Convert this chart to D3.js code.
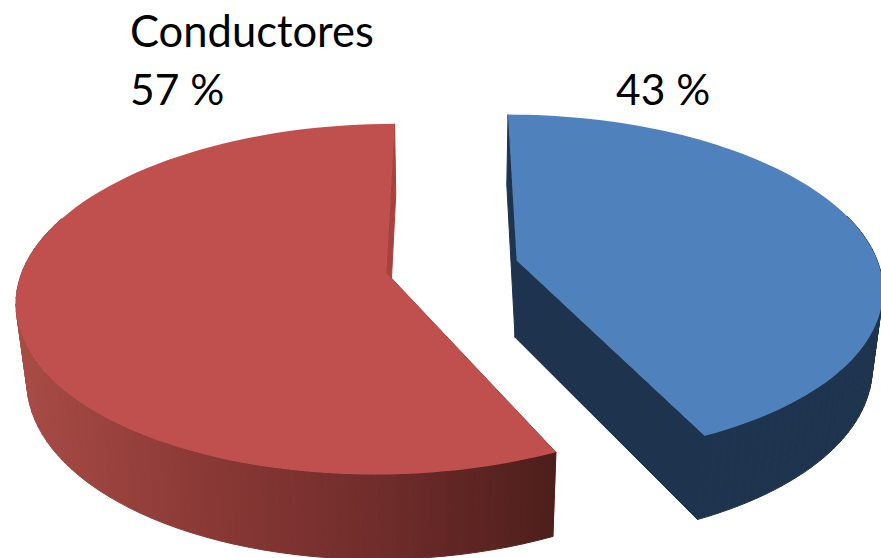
<!DOCTYPE html>
<html>
<head>
<meta charset="utf-8">
<script src="https://cdn.jsdelivr.net/npm/d3@7"></script>
<style>
  html, body { margin: 0; padding: 0; background: #fff; }
  svg { display: block; }
</style>
</head>
<body>
<div id="chart"></div>
<script>
const categories = ['Otros', 'Conductores'];
const values = [43, 57];
const labelLines = [['43 %'], ['Conductores', '57 %']];

const width = 881;
const height = 558;

// perspective settings for the 3D pie
const view = { x0: 450, y0: 265, sx: 362, sy: 169, depth: 79, tilt: 0.15, shrink: 0.025 };
// how far each slice is pulled out of the pie, in radius units
const explode = [{ x: 0.185, y: -0.027 }, { x: -0.175, y: 0.045 }];
const labelPos = [{ x: 616, y: 105 }, { x: 130, y: 47 }];

const topColor = d3.scaleOrdinal().domain(categories).range(['#4f81bd', '#c0504d']);
const faceColor = d3.scaleOrdinal().domain(categories).range(['#1e344e', '#a8423f']);

const svg = d3.select('#chart')
    .append('svg')
    .attr('width', width)
    .attr('height', height);

// the wall of the red slice gets darker from left to right, blue stays flat
const defs = svg.append('defs');
const wallStops = [
    ['wall-0', [[20, '#1e344e'], [881, '#1e344e']]],
    ['wall-1', [[20, '#a84b45'], [200, '#8b3936'], [400, '#6c2b29'], [554, '#4d1e1b']]]
];
wallStops.forEach(([id, stops]) => {
    const grad = defs.append('linearGradient')
        .attr('id', id)
        .attr('gradientUnits', 'userSpaceOnUse')
        .attr('x1', stops[0][0]).attr('x2', stops[stops.length - 1][0])
        .attr('y1', 0).attr('y2', 0);
    stops.forEach(s => {
        grad.append('stop')
            .attr('offset', (s[0] - stops[0][0]) / (stops[stops.length - 1][0] - stops[0][0]))
            .attr('stop-color', s[1]);
    });
});

function project(X, Y, Z) {
    const w = 1 - view.tilt * Y + view.shrink * Z;
    return [view.x0 + view.sx * X / w, view.y0 + (view.sy * Y + view.depth * Z) / w];
}

function rim(off, angle, z) {
    return project(off.x + Math.sin(angle), off.y - Math.cos(angle), z);
}

const line = d3.line();
const pie = d3.pie().sort(null).value(d => d)(values);

pie.forEach((slice, i) => {
    const name = categories[i];
    const off = explode[i];
    const g = svg.append('g').attr('class', 'slice');
    const steps = d3.range(0, 91).map(k => slice.startAngle + (slice.endAngle - slice.startAngle) * k / 90);
    const apexTop = project(off.x, off.y, 0);
    const apexBase = project(off.x, off.y, 1);

    // cut faces first, the top covers whatever should be hidden
    [slice.startAngle, slice.endAngle].forEach(a => {
        g.append('path')
            .attr('d', line([apexTop, rim(off, a, 0), rim(off, a, 1), apexBase]) + 'Z')
            .attr('fill', faceColor(name))
            .attr('stroke', faceColor(name))
            .attr('stroke-width', 1);
    });

    // outer wall, only the part turned to the viewer
    d3.pairs(steps).filter(([a]) => -Math.cos(a) > -0.3).forEach(([a, b]) => {
        g.append('path')
            .attr('d', line([rim(off, a, 0), rim(off, b, 0), rim(off, b, 1), rim(off, a, 1)]) + 'Z')
            .attr('fill', `url(#wall-${i})`)
            .attr('stroke', `url(#wall-${i})`)
            .attr('stroke-width', 1);
    });

    // top of the slice
    g.append('path')
        .attr('d', line([apexTop].concat(steps.map(a => rim(off, a, 0)))) + 'Z')
        .attr('fill', topColor(name));
});

labelLines.forEach((lines, i) => {
    const t = svg.append('text')
        .attr('x', labelPos[i].x)
        .attr('y', labelPos[i].y)
        .attr('font-family', 'Lato, "Open Sans", sans-serif')
        .attr('fill', '#000');
    lines.forEach((s, k) => {
        t.append('tspan')
            .attr('x', labelPos[i].x)
            .attr('dy', k === 0 ? 0 : 58)
            .attr('font-size', s === 'Conductores' ? 43.5 : 42.5)
            .text(s);
    });
});
</script>
</body>
</html>
